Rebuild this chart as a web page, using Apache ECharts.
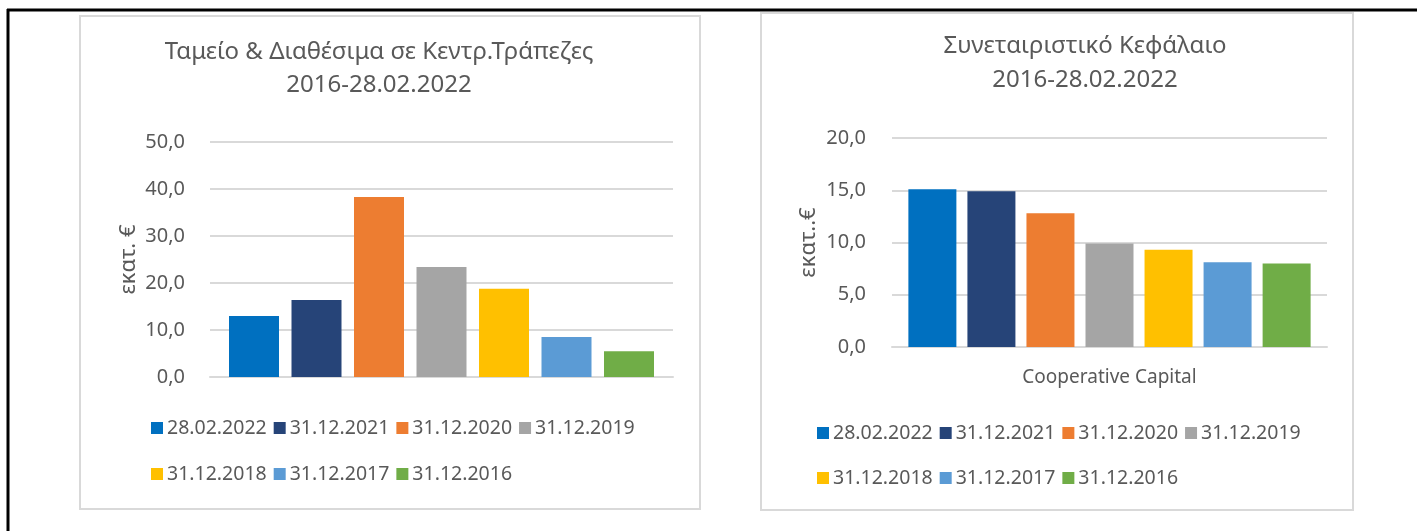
<!DOCTYPE html>
<html>
<head>
<meta charset="utf-8">
<script src="https://cdn.jsdelivr.net/npm/echarts@6/dist/echarts.min.js"></script>
<style>
  html, body { margin: 0; padding: 0; background: #fff; }
  #main { width: 1417px; height: 531px; }
</style>
</head>
<body>
<div id="main"></div>
<script>
// dates (series names)
const dates = ["28.02.2022", "31.12.2021", "31.12.2020", "31.12.2019", "31.12.2018", "31.12.2017", "31.12.2016"];
const colors = ["#0070C0", "#264478", "#ED7D31", "#A5A5A5", "#FFC000", "#5B9BD5", "#70AD47"];

// Ταμείο & Διαθέσιμα
const cashValues = [13.0, 16.4, 38.3, 23.4, 18.8, 8.5, 5.5];
// Συνεταιριστικό Κεφάλαιο
const capitalValues = [15.1, 14.9, 12.8, 9.9, 9.3, 8.1, 8.0];

const leftCategory = [""];
const rightCategory = ["Cooperative Capital"];

const FONT = "Noto Sans";
const TXT = "#595959";

var myChart = echarts.init(document.getElementById("main"));

function fmt(v) {
  return v.toFixed(1).replace(".", ",");
}

function buildSeries(values, axisIdx, width, gap) {
  return values.map(function(v, i) {
    return {
      name: dates[i],
      type: "bar",
      xAxisIndex: axisIdx,
      yAxisIndex: axisIdx,
      barWidth: width,
      barGap: gap,
      itemStyle: { color: colors[i] },
      data: [v]
    };
  });
}

function legend(names, left, top) {
  return {
    data: names,
    left: left,
    top: top,
    itemWidth: 12,
    itemHeight: 12,
    itemGap: 7,
    icon: "rect",
    selectedMode: false,
    textStyle: { fontFamily: FONT, fontSize: 19.5, color: TXT, padding: [0, 0, 0, -1] }
  };
}

myChart.setOption({
  animation: false,
  title: [
    {
      text: "Ταμείο & Διαθέσιμα σε Κεντρ.Τράπεζες\n2016-28.02.2022",
      left: 374,
      top: 31,
      textAlign: "center",
      textStyle: { fontFamily: FONT, fontSize: 24, fontWeight: "normal", color: TXT, lineHeight: 33 }
    },
    {
      text: "Συνεταιριστικό Κεφάλαιο\n2016-28.02.2022",
      left: 1080,
      top: 24,
      textAlign: "center",
      textStyle: { fontFamily: FONT, fontSize: 24, fontWeight: "normal", color: TXT, lineHeight: 34 }
    }
  ],
  legend: [
    legend(dates.slice(0, 4), 146, 413),
    legend(dates.slice(4), 146, 459),
    legend(dates.slice(0, 4), 812, 418),
    legend(dates.slice(4), 812, 463)
  ],
  grid: [
    { left: 210, right: 744, top: 142, bottom: 154 },
    { left: 892, right: 90, top: 138, bottom: 184 }
  ],
  xAxis: [
    {
      type: "category",
      gridIndex: 0,
      data: leftCategory,
      axisLine: { lineStyle: { color: "#d9d9d9", width: 2 } },
      axisTick: { show: false },
      axisLabel: { show: false }
    },
    {
      type: "category",
      gridIndex: 1,
      data: rightCategory,
      axisLine: { lineStyle: { color: "#d9d9d9", width: 2 } },
      axisTick: { show: false },
      axisLabel: { fontFamily: FONT, fontSize: 19, color: TXT, margin: 21 }
    }
  ],
  yAxis: [
    {
      type: "value",
      gridIndex: 0,
      min: 0,
      max: 50,
      interval: 10,
      name: "εκατ. €",
      nameLocation: "middle",
      nameRotate: 90,
      nameGap: 70,
      nameTextStyle: { fontFamily: FONT, fontSize: 22, color: TXT },
      axisLine: { show: false },
      axisTick: { show: false },
      axisLabel: { fontFamily: FONT, fontSize: 20, color: TXT, margin: 25, formatter: fmt },
      splitLine: { lineStyle: { color: "#d9d9d9", width: 2 } }
    },
    {
      type: "value",
      gridIndex: 1,
      min: 0,
      max: 20,
      interval: 5,
      name: "εκατ..€",
      nameLocation: "middle",
      nameRotate: 90,
      nameGap: 72,
      nameTextStyle: { fontFamily: FONT, fontSize: 22, color: TXT },
      axisLine: { show: false },
      axisTick: { show: false },
      axisLabel: { fontFamily: FONT, fontSize: 20, color: TXT, margin: 26, formatter: fmt },
      splitLine: { lineStyle: { color: "#d9d9d9", width: 2 } }
    }
  ],
  graphic: [
    // outer black frame
    { type: "line", shape: { x1: 7, y1: 10, x2: 1417, y2: 10 }, style: { stroke: "#000", lineWidth: 3 }, z: 1 },
    { type: "line", shape: { x1: 8, y1: 9, x2: 8, y2: 531 }, style: { stroke: "#000", lineWidth: 3 }, z: 1 },
    // panels
    { type: "rect", shape: { x: 80, y: 16, width: 620, height: 493 }, style: { fill: "none", stroke: "#d9d9d9", lineWidth: 2 }, z: 1 },
    { type: "rect", shape: { x: 761, y: 13, width: 592, height: 497 }, style: { fill: "none", stroke: "#d9d9d9", lineWidth: 2 }, z: 1 }
  ],
  series: buildSeries(cashValues, 0, 50, "25%").concat(buildSeries(capitalValues, 1, 48, "23%"))
});
</script>
</body>
</html>
